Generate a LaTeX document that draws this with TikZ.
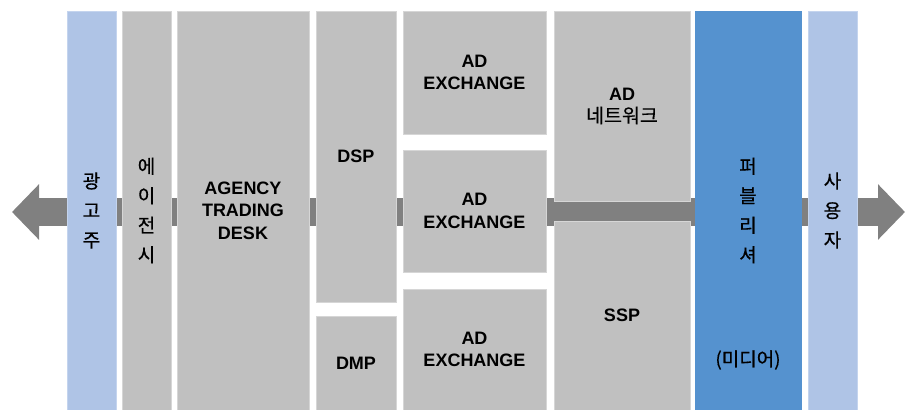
\documentclass[tikz,border=0pt]{standalone}
\usepackage{fontspec}
\setmainfont{Liberation Sans}
\newfontfamily\krfont[FakeBold=0.5]{Noto Sans CJK KR}
\usepackage{tikz}
\usetikzlibrary{arrows.meta}
\definecolor{BoxGray}{RGB}{192, 192, 192}
\definecolor{EdgeGray}{RGB}{214, 214, 214}
\definecolor{LightBlue}{RGB}{175, 196, 230}
\definecolor{EdgeBlue}{RGB}{196, 212, 238}
\definecolor{MediaBlue}{RGB}{85, 146, 207}
\definecolor{FlowGray}{RGB}{128, 128, 128}
\tikzset{
  block/.style={rectangle, fill=BoxGray, draw=EdgeGray, line width=0.8pt,
    inner sep=0pt, align=center, font=\fontsize{18}{22.5}\selectfont\bfseries},
  endblock/.style={block, fill=LightBlue, draw=EdgeBlue},
  vtext/.style={font=\fontsize{19}{29.5}\selectfont\krfont},
  flow/.style={draw=FlowGray, line width=28pt,
    {Triangle[length=27pt, width=54pt]}-{Triangle[length=27pt, width=54pt]}}
}

\begin{document}
\begin{tikzpicture}[x=1pt, y=-1pt]
  \useasboundingbox (0,0) rectangle (906,410);
  % flow arrow behind the columns
  \coordinate (westend) at (12,212);
  \coordinate (eastend) at (905,212);
  \draw[flow] (westend) -- (eastend);

  % columns
  \node[endblock, vtext, minimum width=49pt, minimum height=399pt] (advertiser) at (91.5,210.5) {광\\고\\주};
  \node[block, vtext, minimum width=49pt, minimum height=399pt] (agency) at (146.5,210.5) {에\\이\\전\\시};
  \node[block, minimum width=132pt, minimum height=399pt] (atd) at (243,210.5) {AGENCY\\TRADING\\DESK};
  \node[block, minimum width=80pt, minimum height=291pt] (dsp) at (356,156.5) {DSP};
  \node[block, minimum width=80pt, minimum height=94pt] (dmp) at (356,363) {DMP};
  \node[block, minimum width=143pt, minimum height=123pt] (adxa) at (474.5,72.5) {AD\\EXCHANGE};
  \node[block, minimum width=143pt, minimum height=122pt] (adxb) at (474.5,211) {AD\\EXCHANGE};
  \node[block, minimum width=143pt, minimum height=121pt] (adxc) at (474.5,349.5) {AD\\EXCHANGE};
  \node[block, minimum width=136pt, minimum height=190pt] (adnet) at (622,106) {AD\\{\fontsize{19.5}{22.5}\selectfont\krfont\mdseries 네트워크}};
  \node[block, minimum width=136pt, minimum height=189pt] (ssp) at (622,315.5) {SSP};
  \node[block, vtext, fill=MediaBlue, draw=MediaBlue, minimum width=106pt, minimum height=399pt] (publisher) at (748,210.5) {퍼\\블\\리\\셔};
  \node[vtext] (media) at (748,360) {(미디어)};
  \node[endblock, vtext, minimum width=49pt, minimum height=399pt] (user) at (832.5,210.5) {사\\용\\자};
\end{tikzpicture}
\end{document}
